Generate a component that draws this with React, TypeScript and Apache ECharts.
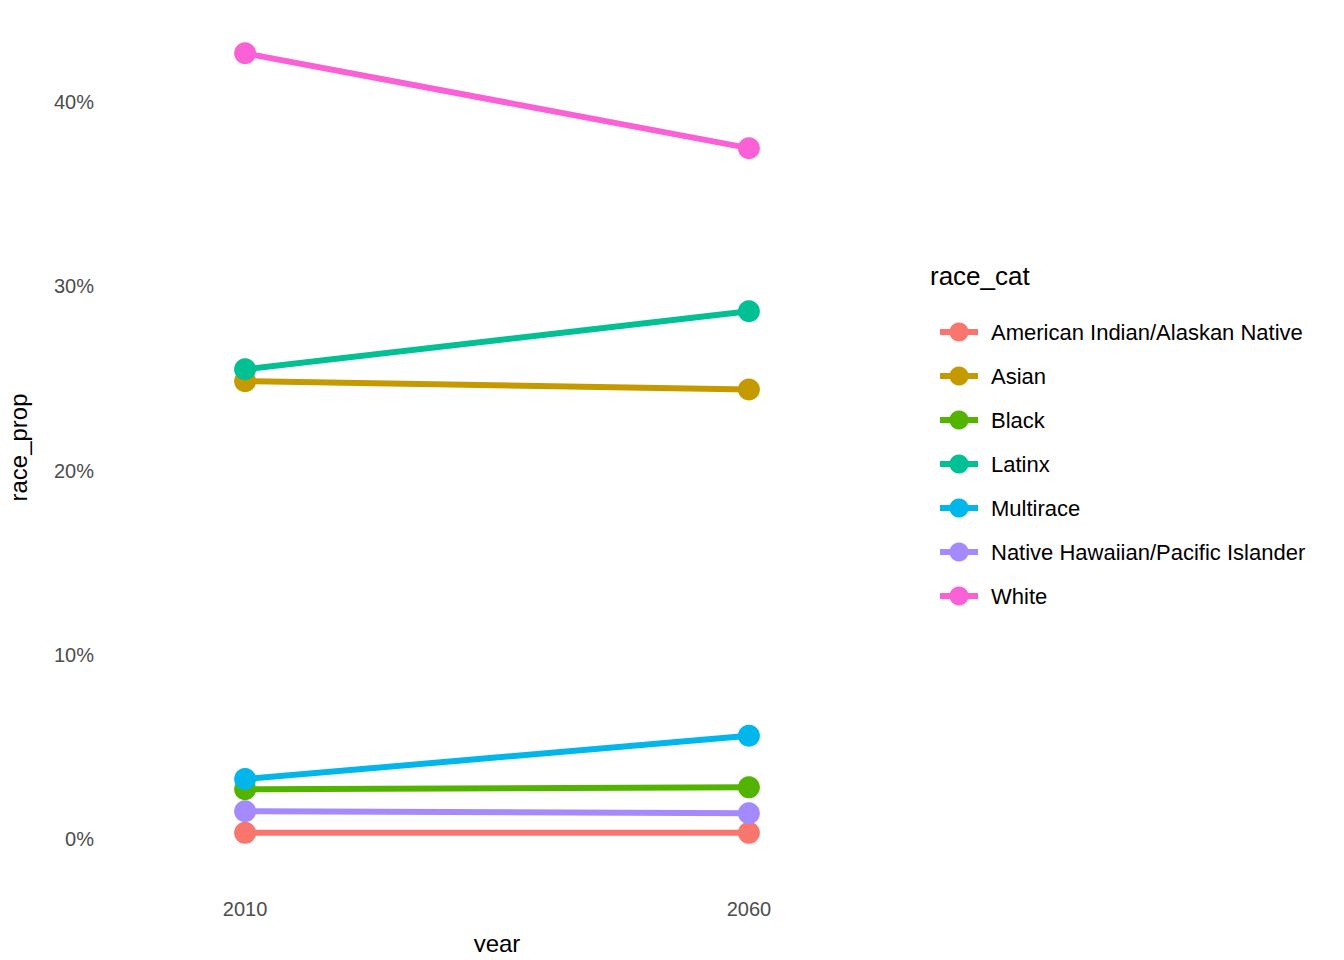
import { useEffect, useRef } from 'react'
import * as echarts from 'echarts'

const years = [2010, 2060]
const categories = [
  'American Indian/Alaskan Native',
  'Asian',
  'Black',
  'Latinx',
  'Multirace',
  'Native Hawaiian/Pacific Islander',
  'White',
]
const colors = ['#F8766D', '#C49A00', '#53B400', '#00C094', '#00B6EB', '#A58AFF', '#FB61D7']
const values = [
  [0.33, 0.33],
  [24.85, 24.4],
  [2.7, 2.8],
  [25.5, 28.65],
  [3.25, 5.6],
  [1.5, 1.4],
  [42.65, 37.5],
]
const yTicks = [0, 10, 20, 30, 40]

const font = 'Liberation Sans, Arial, sans-serif'

export default function App() {
  const ref = useRef<HTMLDivElement>(null)

  useEffect(() => {
    if (!ref.current) return
    const chart = echarts.init(ref.current, null, { renderer: 'svg' })
    chart.setOption({
      animation: false,
      textStyle: { fontFamily: font },
      grid: { left: 100, top: 10, width: 794, height: 875, outerBoundsMode: 'none', containLabel: false },
      xAxis: {
        type: 'value',
        min: 1995.6,
        max: 2074.4,
        name: 'year',
        nameLocation: 'middle',
        nameGap: 46,
        nameTextStyle: { color: '#000', fontSize: 24, fontFamily: font },
        axisLine: { show: false },
        axisTick: { show: false },
        splitLine: { show: false },
        axisLabel: {
          customValues: years,
          formatter: (v: number) => String(v),
          color: '#4D4D4D',
          fontSize: 20,
          margin: 14,
          fontFamily: font,
        },
      },
      yAxis: {
        type: 'value',
        min: -2.5,
        max: 45,
        name: 'race_prop',
        nameLocation: 'middle',
        nameGap: 70,
        nameTextStyle: { color: '#000', fontSize: 24, fontFamily: font },
        axisLine: { show: false },
        axisTick: { show: false },
        splitLine: { show: false },
        axisLabel: {
          customValues: yTicks,
          formatter: (v: number) => `${v}%`,
          color: '#4D4D4D',
          fontSize: 20,
          margin: 6,
          fontFamily: font,
        },
      },
      legend: {
        orient: 'vertical',
        left: 932,
        top: 316,
        itemWidth: 38,
        itemHeight: 24,
        itemGap: 22,
        lineStyle: { width: 6 },
        textStyle: { fontSize: 22, color: '#000', fontFamily: font, padding: [0, 0, 0, 8] },
        data: categories,
      },
      graphic: [
        {
          type: 'text',
          left: 930,
          top: 263,
          style: { text: 'race_cat', fontSize: 26, fill: '#000', fontFamily: font },
        },
      ],
      series: categories.map((name, i) => ({
        name,
        type: 'line',
        data: years.map((y, j) => [y, values[i][j]]),
        color: colors[i],
        lineStyle: { width: 6 },
        symbol: 'circle',
        symbolSize: 22,
      })),
    })
    return () => chart.dispose()
  }, [])

  return <div ref={ref} style={{ width: 1344, height: 960, margin: -8, background: '#fff' }} />
}
